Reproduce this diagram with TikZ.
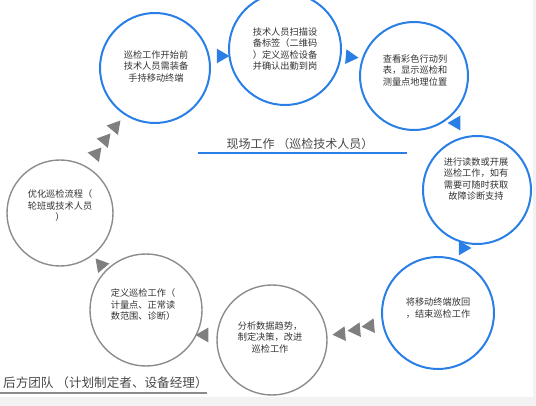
\documentclass[tikz,border=0pt]{standalone}
\usepackage{fontspec}
\setmainfont{Noto Sans CJK SC}
\usetikzlibrary{shapes.geometric}
\definecolor{cblue}{HTML}{2A7FE6}
\definecolor{cgray}{HTML}{8C8C8C}
\definecolor{tgray}{HTML}{7F7F7F}
\definecolor{ctext}{HTML}{333333}
\definecolor{band}{HTML}{F2F2F2}
\tikzset{
  circ/.style={circle, draw, minimum size=#1, inner sep=0pt},
  bcirc/.style={circ=#1, draw=cblue, line width=2pt},
  gcirc/.style={circ=#1, draw=cgray, line width=1.4pt},
  ctxt/.style={align=center, text=ctext, font=\fontsize{9.2}{11.5}\selectfont, inner sep=0pt},
  lbl/.style={text=ctext!90, font=\fontsize{12}{14}\selectfont, inner sep=0pt},
  tri/.style={regular polygon, regular polygon sides=3, inner sep=0pt, minimum size=#1},
  btri/.style={tri=17, fill=cblue, draw=none},
  gtri/.style={tri=17, fill=tgray, draw=none},
}
\begin{document}
\begin{tikzpicture}[x=1pt, y=-1pt]
\useasboundingbox (0,0) rectangle (536,406);
\fill[band] (0,397) rectangle (536,406);
\fill[band] (533,0) rectangle (536,406);
% circles
\node[bcirc=110] (c1) at (155,68) {};
\node[bcirc=112] (c2) at (285,49) {};
\node[bcirc=108] (c3) at (414,76) {};
\node[bcirc=108] (c4) at (477,190) {};
\node[bcirc=112] (c5) at (438,313) {};
\node[gcirc=110] (c6) at (272,340) {};
\node[gcirc=112] (c7) at (146,310) {};
\node[gcirc=106] (c8) at (60,213) {};
% texts
\node[ctxt] (t1) at (156,66) {巡检工作开始前\\技术人员需装备\\手持移动终端};
\node[ctxt] (t2) at (285,49) {技术人员扫描设\\备标签（二维码\\）定义巡检设备\\并确认出勤到岗};
\node[ctxt] (t3) at (415,70) {查看彩色行动列\\表，显示巡检和\\测量点地理位置};
\node[ctxt] (t4) at (476,179) {进行读数或开展\\巡检工作，如有\\需要可随时获取\\故障诊断支持};
\node[ctxt] (t5) at (438,308) {将移动终端放回\\，结束巡检工作};
\node[ctxt] (t6) at (270,337) {分析数据趋势，\\制定决策，改进\\巡检工作};
\node[ctxt] (t7) at (143,305) {定义巡检工作（\\计量点、正常读\\数范围、诊断）};
\node[ctxt] (t8) at (60,206) {优化巡检流程（\\轮班或技术人员\\）};
% arrows (triangles)
\node[btri, shape border rotate=-90] (a12) at (221,56) {};
\node[btri, shape border rotate=-95] (a23) at (350,57) {};
\node[btri, shape border rotate=-150] (a34) at (456,123) {};
\node[btri, shape border rotate=150] (a45) at (463,248) {};
\node[gtri, shape border rotate=95] (a56a) at (370,326) {};
\node[gtri, shape border rotate=95] (a56b) at (356,330) {};
\node[gtri, shape border rotate=95] (a56c) at (341,334) {};
\node[gtri, shape border rotate=90] (a67) at (204,335) {};
\node[gtri, shape border rotate=40] (a78) at (101,265) {};
\node[gtri, shape border rotate=-40] (a81a) at (115,127) {};
\node[gtri, shape border rotate=-40] (a81b) at (105,140) {};
\node[gtri, shape border rotate=-40] (a81c) at (96,154) {};
% labels
\node[lbl] (l1) at (300,144) {现场工作 （巡检技术人员）};
\draw[cblue, line width=1.6pt] (198,153) -- (407,153);
\node[lbl, anchor=west, font=\fontsize{12.6}{14}\selectfont] (l2) at (3,383) {后方团队 （计划制定者、设备经理）};
\draw[cgray, line width=1.3pt] (0,393) -- (207,393);
\end{tikzpicture}
\end{document}
